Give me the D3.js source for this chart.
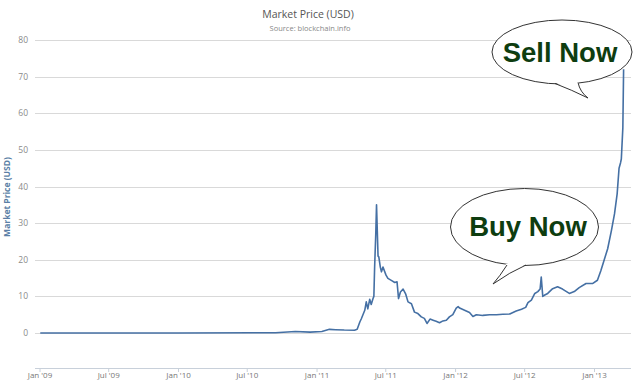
<!DOCTYPE html>
<html>
<head>
<meta charset="utf-8">
<script src="https://cdn.jsdelivr.net/npm/d3@7"></script>
<style>
  html, body { margin: 0; padding: 0; background: #fff; }
  svg { display: block; }
</style>
</head>
<body>
<svg id="chart" width="640" height="384"></svg>
<script>
// ---- Data ----
const dates = [
  "2009-01-03","2009-07-01","2010-01-01","2010-07-17","2010-09-15","2010-11-06","2010-12-15",
  "2011-01-15","2011-02-04","2011-02-20","2011-03-15","2011-04-11","2011-04-18","2011-04-25",
  "2011-04-29","2011-05-08","2011-05-12","2011-05-16","2011-05-21","2011-05-25","2011-05-30",
  "2011-06-01","2011-06-03","2011-06-06","2011-06-08","2011-06-10","2011-06-12","2011-06-14",
  "2011-06-18","2011-06-21","2011-06-25","2011-07-03","2011-07-08","2011-07-18","2011-07-26",
  "2011-08-01","2011-08-05","2011-08-10","2011-08-17","2011-08-24","2011-08-30","2011-09-08",
  "2011-09-16","2011-09-25","2011-10-04","2011-10-12","2011-10-19","2011-10-27","2011-11-04",
  "2011-11-12","2011-11-21","2011-11-30","2011-12-09","2011-12-17","2011-12-26","2012-01-04",
  "2012-01-09","2012-01-13","2012-01-26","2012-02-08","2012-02-17","2012-02-26","2012-03-14",
  "2012-04-01","2012-04-19","2012-05-06","2012-05-24","2012-06-10","2012-06-24","2012-07-05",
  "2012-07-11","2012-07-20","2012-07-29","2012-08-06","2012-08-12","2012-08-15","2012-08-19",
  "2012-08-23","2012-09-01","2012-09-14","2012-09-27","2012-10-10","2012-10-28","2012-11-10",
  "2012-11-23","2012-12-11","2012-12-28","2013-01-10","2013-01-19","2013-01-28","2013-02-06",
  "2013-02-16","2013-02-24","2013-03-03","2013-03-08","2013-03-12","2013-03-14","2013-03-18",
  "2013-03-20"
];
const prices = [
  0, 0, 0, 0.05, 0.06, 0.39, 0.25,
  0.4, 1.0, 0.9, 0.8, 0.75, 1.0, 3.0,
  3.9, 6.2, 8.5, 6.6, 9.2, 7.8, 9.5,
  10, 18, 27, 35, 28, 21, 20.8,
  18, 16.7, 18, 15.8, 14.9, 14.3, 13.8,
  14, 9.4, 11.2, 12, 10.6, 8.5, 8,
  5.7, 5.3, 4.4, 4, 2.6, 3.8, 3.5,
  3.2, 2.8, 3.3, 3.5, 4.4, 5.0, 6.8,
  7.2, 6.8, 6.2, 5.6, 4.5, 5.0, 4.8,
  5.0, 5.0, 5.1, 5.2, 6.0, 6.5, 7.0,
  8.3, 9.0, 10.8, 11.3, 12, 15.3, 10.0,
  10.3, 10.8, 12.1, 12.6, 12.0, 10.8, 11.3,
  12.4, 13.5, 13.5, 14.4, 17, 20, 23,
  28, 32.5, 38, 45, 46.5, 47.5, 56,
  72
];
const yTicks = [0, 10, 20, 30, 40, 50, 60, 70, 80];
const xTickDates = ["2009-01-01","2009-07-01","2010-01-01","2010-07-01","2011-01-01",
                    "2011-07-01","2012-01-01","2012-07-01","2013-01-01"];
const xTickLabels = ["Jan '09","Jul '09","Jan '10","Jul '10","Jan '11",
                     "Jul '11","Jan '12","Jul '12","Jan '13"];
const titleText = "Market Price (USD)";
const subtitleText = "Source: blockchain.info";
const yAxisTitle = "Market Price (USD)";
const bubbles = ["Sell Now", "Buy Now"];

// ---- Drawing ----
const svg = d3.select("#chart");
const parse = d3.utcParse("%Y-%m-%d");
const data = dates.map((d, i) => ({ date: parse(d), value: prices[i] }));

const plotLeft = 35, plotRight = 631, axisY = 368;
const x = d3.scaleUtc()
  .domain([parse("2009-01-01"), parse("2013-01-01")])
  .range([39.5, 594]);
const y = d3.scaleLinear().domain([0, 80]).range([333, 40]);

const font = "'Open Sans', 'DejaVu Sans', sans-serif";

// gridlines
svg.append("g").selectAll("line").data(yTicks).join("line")
  .attr("x1", plotLeft).attr("x2", plotRight)
  .attr("y1", d => Math.round(y(d)) + 0.5).attr("y2", d => Math.round(y(d)) + 0.5)
  .attr("stroke", "#d9d9d9").attr("stroke-width", 1);

// y tick labels
svg.append("g").selectAll("text").data(yTicks).join("text")
  .attr("x", 28).attr("y", d => y(d) + 3)
  .attr("text-anchor", "end")
  .attr("font-family", font).attr("font-size", 8.5)
  .attr("fill", "#8a8a8a")
  .text(d => d);

// y axis title
svg.append("text")
  .attr("transform", "translate(10,197) rotate(-90)")
  .attr("text-anchor", "middle")
  .attr("font-family", font).attr("font-size", 8.5).attr("font-weight", "bold")
  .attr("fill", "#5b7fa6")
  .text(yAxisTitle);

// x axis
const xAxis = d3.axisBottom(x)
  .tickValues(xTickDates.map(parse))
  .tickFormat((d, i) => xTickLabels[i])
  .tickSize(4).tickSizeOuter(0);
const gx = svg.append("g").attr("transform", `translate(0,${axisY})`).call(xAxis);
gx.select(".domain").remove();
gx.insert("line", ":first-child")
  .attr("x1", plotLeft).attr("x2", plotRight).attr("y1", 0.5).attr("y2", 0.5)
  .attr("stroke", "#c8d0da");
gx.selectAll(".tick line").attr("stroke", "#c8d0da");
gx.selectAll(".tick text")
  .attr("font-family", font).attr("font-size", 8)
  .attr("fill", "#777").attr("dy", "0.45em").attr("y", 6);

// price line
const line = d3.line().x(d => x(d.date)).y(d => y(d.value));
svg.append("path").datum(data)
  .attr("d", line)
  .attr("fill", "none")
  .attr("stroke", "#4570a4")
  .attr("stroke-width", 1.6)
  .attr("stroke-linejoin", "round");

// titles
svg.append("text").attr("x", 308).attr("y", 18)
  .attr("text-anchor", "middle").attr("font-family", font).attr("font-size", 10.5)
  .attr("fill", "#555").text(titleText);
svg.append("text").attr("x", 310).attr("y", 30.5)
  .attr("text-anchor", "middle").attr("font-family", font).attr("font-size", 7.5)
  .attr("fill", "#888").text(subtitleText);

// speech bubbles
function bubble(cx, cy, rx, ry, tail, label, tx, ty) {
  const g = svg.append("g");
  g.append("ellipse").attr("cx", cx).attr("cy", cy).attr("rx", rx).attr("ry", ry)
    .attr("fill", "#fff").attr("stroke", "#333").attr("stroke-width", 1);
  g.append("path").attr("d", tail.fill).attr("fill", "#fff").attr("stroke", "none");
  g.append("path").attr("d", tail.stroke).attr("fill", "none")
    .attr("stroke", "#333").attr("stroke-width", 1);
  g.append("text").attr("x", tx).attr("y", ty)
    .attr("text-anchor", "middle")
    .attr("font-family", "'Liberation Sans', Arial, sans-serif")
    .attr("font-weight", "bold").attr("font-size", 27.5)
    .attr("fill", "#0e3d10")
    .text(label);
}

bubble(562, 52, 70, 32, {
  fill: "M554,82 Q572,90 588,98 Q580,92 578,81 Z",
  stroke: "M555,83.5 Q572,90 588,98 Q580,92 578,82.5"
}, bubbles[0], 560, 62);

bubble(524.5, 227, 74, 38.5, {
  fill: "M506,264 Q500,276 493,284 Q510,272 527,264 Z",
  stroke: "M507,265 Q500,276 493,284 Q510,272 526,265"
}, bubbles[1], 528, 236);
</script>
</body>
</html>
